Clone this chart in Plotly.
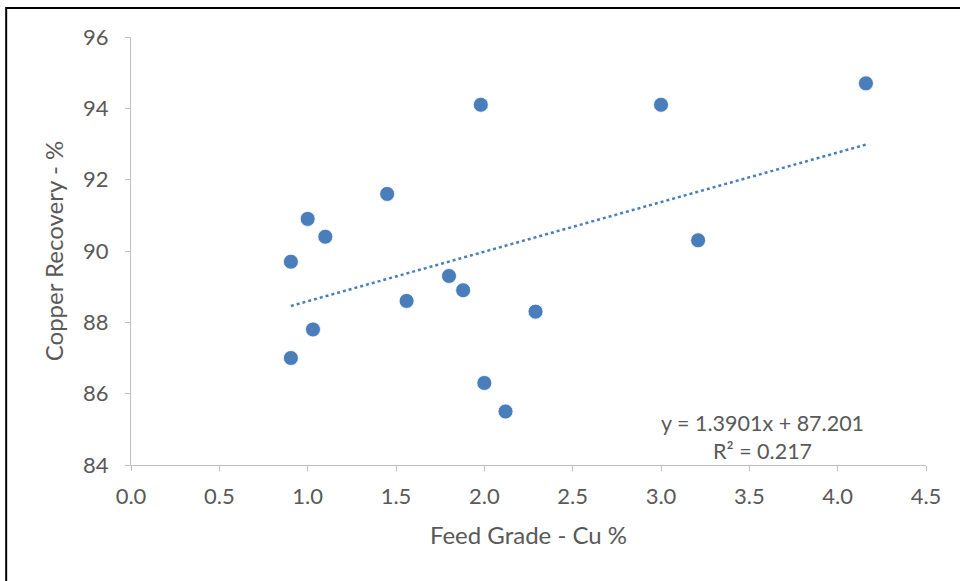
import plotly.graph_objects as go

feed_grade = [0.905, 0.905, 1.0, 1.03, 1.10, 1.45, 1.56, 1.80, 1.88, 1.98, 2.00, 2.12, 2.29, 3.00, 3.21, 4.16]
recovery = [87.0, 89.7, 90.9, 87.8, 90.4, 91.6, 88.6, 89.3, 88.9, 94.1, 86.3, 85.5, 88.3, 94.1, 90.3, 94.7]
slope = 1.3901
intercept = 87.201
r_squared = 0.217
x_ticks = [0.0, 0.5, 1.0, 1.5, 2.0, 2.5, 3.0, 3.5, 4.0, 4.5]
y_ticks = [84, 86, 88, 90, 92, 94, 96]

blue = "#4a7ebb"
text_gray = "#595959"
axis_gray = "#bfbfbf"
font_fam = "Lato, Open Sans, sans-serif"

x_lo, x_hi = min(feed_grade), max(feed_grade)
trend_x = [x_lo, x_hi]
trend_y = [slope * v + intercept for v in trend_x]

fig = go.Figure()
fig.add_trace(go.Scatter(
    x=trend_x, y=trend_y, mode="lines",
    line=dict(color=blue, width=2.5, dash="dot"),
    hoverinfo="skip", showlegend=False))
fig.add_trace(go.Scatter(
    x=feed_grade, y=recovery, mode="markers",
    marker=dict(color=blue, size=15, line=dict(color="white", width=0.8)),
    showlegend=False))

fig.add_annotation(
    x=4.16, y=84.78, xref="x", yref="y",
    text=f"y = {slope}x + {intercept}<br>R² = {r_squared}",
    showarrow=False, xanchor="right", yanchor="middle", align="center",
    font=dict(family=font_fam, size=21.5, color=text_gray))

fig.add_shape(type="rect", xref="paper", yref="paper",
              x0=-0.157, x1=1.2, y0=-0.4, y1=1.068,
              line=dict(color="black", width=2), fillcolor="rgba(0,0,0,0)")

fig.update_layout(
    width=960, height=581,
    margin=dict(l=131, r=34, t=37, b=116),
    paper_bgcolor="white", plot_bgcolor="white",
    font=dict(family=font_fam, color=text_gray, size=22),
    xaxis=dict(
        range=[0, 4.5], tickvals=x_ticks, ticktext=[f"{v:.1f}" for v in x_ticks],
        showgrid=False, zeroline=False, showline=True, linecolor=axis_gray, linewidth=1.3,
        ticks="outside", ticklen=5, tickcolor=axis_gray, ticklabelstandoff=6,
        tickfont=dict(size=22, color=text_gray),
        title=dict(text="Feed Grade - Cu %", font=dict(size=24, color=text_gray), standoff=19)),
    yaxis=dict(
        range=[84, 96], tickvals=y_ticks,
        showgrid=False, zeroline=False, showline=True, linecolor=axis_gray, linewidth=1.3,
        ticks="outside", ticklen=5, tickcolor=axis_gray, ticklabelstandoff=12,
        tickfont=dict(size=22, color=text_gray),
        title=dict(text="Copper Recovery - %", font=dict(size=24, color=text_gray), standoff=12)),
)

fig.write_html("out.html")
